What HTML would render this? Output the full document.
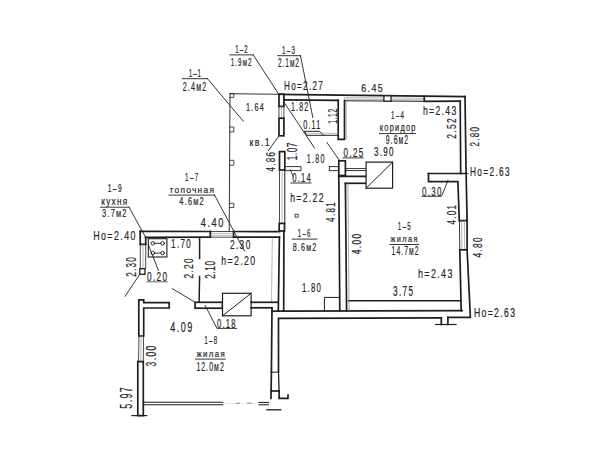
<!DOCTYPE html>
<html><head><meta charset="utf-8"><style>
html,body{margin:0;padding:0;background:#fff;}
svg{display:block;}
text{font-family:"Liberation Sans",sans-serif;stroke:#2a2a2a;stroke-width:0.2px;}
</style></head><body>
<svg width="613" height="460" viewBox="0 0 613 460" stroke-linecap="square">
<rect width="613" height="460" fill="#fff"/>
<text transform="translate(188.80 76.75) scale(0.550 1)" font-size="11.29" textLength="22.18" lengthAdjust="spacing" fill="#222">1–1</text>
<path d="M182.2 78.7 L207.5 78.7" stroke="#1e1e1e" stroke-width="0.9" fill="none" />
<text transform="translate(182.70 90.65) scale(0.569 1)" font-size="12.57" textLength="41.33" lengthAdjust="spacing" fill="#222">2.4м2</text>
<path d="M207.5 78.7 L243.2 121.1" stroke="#1e1e1e" stroke-width="0.9" fill="none" />
<text transform="translate(235.30 52.75) scale(0.550 1)" font-size="10.86" textLength="22.18" lengthAdjust="spacing" fill="#222">1–2</text>
<path d="M230 54.9 L253.2 54.9" stroke="#1e1e1e" stroke-width="0.9" fill="none" />
<text transform="translate(230.70 66.15) scale(0.563 1)" font-size="11.29" textLength="37.10" lengthAdjust="spacing" fill="#222">1.9м2</text>
<path d="M253.2 54.9 L278.8 94.3 L314.5 148" stroke="#1e1e1e" stroke-width="0.9" fill="none" />
<text transform="translate(282.00 53.95) scale(0.605 1)" font-size="10.29" textLength="21.47" lengthAdjust="spacing" fill="#222">1–3</text>
<path d="M277.6 55.7 L300.5 55.7" stroke="#1e1e1e" stroke-width="0.9" fill="none" />
<text transform="translate(278.00 67.45) scale(0.550 1)" font-size="12.00" textLength="38.18" lengthAdjust="spacing" fill="#222">2.1м2</text>
<path d="M300.5 55.7 L312.8 117.4" stroke="#1e1e1e" stroke-width="0.9" fill="none" />
<text transform="translate(284.00 90.25) scale(0.620 1)" font-size="13.14" textLength="62.59" lengthAdjust="spacing" fill="#222">Ho=2.27</text>
<path d="M279 94.3 L230 93.7 L229.2 231.3" stroke="#1e1e1e" stroke-width="0.9" fill="none" />
<path d="M229.8 93.7 L233.8 93.7 L233.8 97.4 L229.6 97.4" stroke="#1e1e1e" stroke-width="0.8" fill="none" />
<path d="M229.8 127 L233.8 127 L233.8 131.9 L229.6 131.9" stroke="#1e1e1e" stroke-width="0.8" fill="none" />
<path d="M229.8 160.3 L233.8 160.3 L233.8 165.2 L229.6 165.2" stroke="#1e1e1e" stroke-width="0.8" fill="none" />
<path d="M229.8 203.3 L233.8 203.3 L233.8 207.6 L229.6 207.6" stroke="#1e1e1e" stroke-width="0.8" fill="none" />
<text transform="translate(246.10 111.45) scale(0.683 1)" font-size="10.57" textLength="25.77" lengthAdjust="spacing" fill="#222">1.64</text>
<text transform="translate(249.60 145.75) scale(0.847 1)" font-size="10.50" textLength="23.62" lengthAdjust="spacing" fill="#222">кв.1</text>
<path d="M279 135.8 L268.5 150.5" stroke="#1e1e1e" stroke-width="0.9" fill="none" />
<text transform="translate(274.75 171.50) rotate(-90) scale(0.636 1)" font-size="12.57" textLength="30.64" lengthAdjust="spacing" fill="#222">4.86</text>
<path d="M279 94.3 L465 96.6" stroke="#1e1e1e" stroke-width="1.7" fill="none" />
<path d="M283.5 99.8 L338.2 100.3" stroke="#1e1e1e" stroke-width="1.7" fill="none" />
<path d="M344.5 97.6 L424.3 98.3" stroke="#8a8a8a" stroke-width="0.6" fill="none" />
<path d="M344.5 99.2 L424.3 99.9" stroke="#8a8a8a" stroke-width="0.6" fill="none" />
<path d="M344.5 100.8 L424.3 101.3" stroke="#1e1e1e" stroke-width="1.0" fill="none" />
<rect x="383.9" y="95.8" width="7.1" height="5.4" stroke="#1e1e1e" stroke-width="1.3" fill="#fff"/>
<path d="M424.3 96.3 L424.3 101.3 L460.2 101.1" stroke="#1e1e1e" stroke-width="1.7" fill="none" />
<text transform="translate(361.20 92.25) scale(0.795 1)" font-size="11.14" textLength="27.16" lengthAdjust="spacing" fill="#222">6.45</text>
<path d="M465 96.6 L466.1 173.5 L467.1 220.7 L467.1 249.8 L470.4 317.4 L447.9 317.4" stroke="#1e1e1e" stroke-width="1.7" fill="none" />
<path d="M460.2 101.1 L460.7 173.5" stroke="#1e1e1e" stroke-width="1.7" fill="none" />
<path d="M428.5 173.5 L466.1 173.5" stroke="#1e1e1e" stroke-width="1.7" fill="none" />
<path d="M428.5 173.5 L428.5 181.7 L457.9 181.7 L459.3 220.7 L467.1 220.7" stroke="#1e1e1e" stroke-width="1.7" fill="none" />
<path d="M461.7 220.7 L461.9 249.8" stroke="#8a8a8a" stroke-width="0.6" fill="none" />
<path d="M464.4 220.7 L464.6 249.8" stroke="#8a8a8a" stroke-width="0.6" fill="none" />
<path d="M459.4 220.7 L459.8 249.8" stroke="#1e1e1e" stroke-width="0.9" fill="none" />
<path d="M459.8 249.8 L467.1 249.8" stroke="#1e1e1e" stroke-width="1.7" fill="none" />
<path d="M459.8 249.8 L461.2 310.6" stroke="#1e1e1e" stroke-width="1.7" fill="none" />
<text transform="translate(422.90 114.95) scale(0.673 1)" font-size="12.86" textLength="49.66" lengthAdjust="spacing" fill="#222">h=2.43</text>
<text transform="translate(456.45 138.70) rotate(-90) scale(0.626 1)" font-size="13.43" textLength="32.73" lengthAdjust="spacing" fill="#222">2.52</text>
<text transform="translate(478.95 146.60) rotate(-90) scale(0.670 1)" font-size="12.00" textLength="29.25" lengthAdjust="spacing" fill="#222">2.80</text>
<text transform="translate(470.00 176.25) scale(0.685 1)" font-size="12.14" textLength="57.83" lengthAdjust="spacing" fill="#222">Ho=2.63</text>
<path d="M466.1 173.5 L468 173.5" stroke="#1e1e1e" stroke-width="0.9" fill="none" />
<text transform="translate(422.00 195.85) scale(0.615 1)" font-size="13.00" textLength="31.69" lengthAdjust="spacing" fill="#222">0.30</text>
<path d="M422 196.3 L441.5 196.3 L448 180.3" stroke="#1e1e1e" stroke-width="0.9" fill="none" />
<text transform="translate(456.05 224.60) rotate(-90) scale(0.625 1)" font-size="12.86" textLength="31.34" lengthAdjust="spacing" fill="#222">4.01</text>
<text transform="translate(481.95 257.60) rotate(-90) scale(0.662 1)" font-size="12.57" textLength="30.64" lengthAdjust="spacing" fill="#222">4.80</text>
<text transform="translate(473.90 317.45) scale(0.719 1)" font-size="12.00" textLength="57.15" lengthAdjust="spacing" fill="#222">Ho=2.63</text>
<path d="M462.1 310.6 L283.1 311.1" stroke="#1e1e1e" stroke-width="1.7" fill="none" />
<path d="M441.3 317.9 L278.5 318.3 L278.5 372" stroke="#1e1e1e" stroke-width="1.7" fill="none" />
<path d="M441.3 317.9 L441.3 324.5" stroke="#1e1e1e" stroke-width="1.7" fill="none" />
<path d="M447.9 317.4 L447.9 324.5" stroke="#1e1e1e" stroke-width="1.7" fill="none" />
<path d="M435.7 324.5 L456 324.5" stroke="#1e1e1e" stroke-width="1.2" fill="none" />
<path d="M348.4 300.8 L460.9 300.8" stroke="#1e1e1e" stroke-width="1.4" fill="none" />
<text transform="translate(393.10 296.15) scale(0.574 1)" font-size="14.29" textLength="34.82" lengthAdjust="spacing" fill="#222">3.75</text>
<text transform="translate(418.00 278.45) scale(0.700 1)" font-size="12.71" textLength="49.11" lengthAdjust="spacing" fill="#222">h=2.43</text>
<path d="M338.2 100.3 L338.2 139.3 L344.5 139.3 L344.5 100.6" stroke="#1e1e1e" stroke-width="1.7" fill="none" />
<path d="M346.3 101 L346.3 139" stroke="#8a8a8a" stroke-width="0.6" fill="none" />
<text transform="translate(336.55 123.80) rotate(-90) scale(0.550 1)" font-size="12.29" textLength="27.27" lengthAdjust="spacing" fill="#222">1.12</text>
<text transform="translate(291.00 111.15) scale(0.581 1)" font-size="12.14" textLength="29.60" lengthAdjust="spacing" fill="#222">1.82</text>
<text transform="translate(303.30 129.15) scale(0.613 1)" font-size="11.86" textLength="27.72" lengthAdjust="spacing" fill="#222">0.11</text>
<path d="M304.8 131.3 L319.7 131.3 L323.7 135.3 L338.2 135.3" stroke="#1e1e1e" stroke-width="1.0" fill="none" />
<path d="M304.8 131.3 L306.5 135.3 L323.7 135.3" stroke="#1e1e1e" stroke-width="1.0" fill="none" />
<path d="M307 133.3 L338.2 133.3" stroke="#8a8a8a" stroke-width="0.6" fill="none" />
<text transform="translate(391.00 118.85) scale(0.613 1)" font-size="10.00" textLength="20.88" lengthAdjust="spacing" fill="#222">1–4</text>
<text transform="translate(379.80 131.05) scale(0.748 1)" font-size="10.00" textLength="47.75" lengthAdjust="spacing" fill="#222">коридор</text>
<path d="M379.5 133.6 L415.5 133.6" stroke="#1e1e1e" stroke-width="0.9" fill="none" />
<text transform="translate(385.70 143.75) scale(0.570 1)" font-size="12.00" textLength="39.45" lengthAdjust="spacing" fill="#222">9.6м2</text>
<rect x="279" y="94.3" width="4.9" height="12.1" stroke="#1e1e1e" stroke-width="1.7" fill="#fff"/>
<path d="M279 106.4 L279 118.2" stroke="#1e1e1e" stroke-width="0.8" fill="none" />
<path d="M281.5 106.4 L281.5 118.2" stroke="#8a8a8a" stroke-width="0.6" fill="none" />
<path d="M283.9 106.4 L283.9 118.2" stroke="#1e1e1e" stroke-width="0.8" fill="none" />
<rect x="279" y="118.2" width="4.9" height="17.6" stroke="#1e1e1e" stroke-width="1.7" fill="#fff"/>
<rect x="279.5" y="151.6" width="5.3" height="18.4" stroke="#1e1e1e" stroke-width="1.7" fill="#fff"/>
<text transform="translate(297.15 160.30) rotate(-90) scale(0.550 1)" font-size="14.86" textLength="32.18" lengthAdjust="spacing" fill="#222">1.07</text>
<text transform="translate(306.80 163.35) scale(0.602 1)" font-size="12.00" textLength="29.25" lengthAdjust="spacing" fill="#222">1.80</text>
<path d="M284.8 166.6 L301 166.6 L301 170.6 L284.8 170.6" stroke="#1e1e1e" stroke-width="0.9" fill="none" />
<path d="M279.5 170 L279.5 223.4" stroke="#1e1e1e" stroke-width="0.8" fill="none" />
<path d="M282.1 170 L282.1 223.4" stroke="#8a8a8a" stroke-width="0.6" fill="none" />
<path d="M284.8 170 L284.8 223.4" stroke="#1e1e1e" stroke-width="1.0" fill="none" />
<rect x="279.2" y="223.4" width="5.3" height="7.6" stroke="#1e1e1e" stroke-width="1.7" fill="#fff"/>
<path d="M283.9 231 L283.7 311.1" stroke="#1e1e1e" stroke-width="1.7" fill="none" />
<path d="M279.4 237.2 L278.3 311.1" stroke="#1e1e1e" stroke-width="1.7" fill="none" />
<path d="M272.3 238 L271.5 302" stroke="#8a8a8a" stroke-width="0.6" fill="none" />
<text transform="translate(292.20 182.45) scale(0.568 1)" font-size="13.43" textLength="32.73" lengthAdjust="spacing" fill="#222">0.14</text>
<path d="M291 183 L311 183" stroke="#1e1e1e" stroke-width="0.9" fill="none" />
<path d="M290.2 169.6 L293.5 177" stroke="#1e1e1e" stroke-width="0.8" fill="none" />
<text transform="translate(290.20 202.05) scale(0.642 1)" font-size="13.43" textLength="51.87" lengthAdjust="spacing" fill="#222">h=2.22</text>
<rect x="295.1" y="214.2" width="3.0" height="2.9" stroke="#1e1e1e" stroke-width="0.8" fill="#fff"/>
<text transform="translate(297.70 236.95) scale(0.550 1)" font-size="11.14" textLength="23.26" lengthAdjust="spacing" fill="#222">1–6</text>
<path d="M292.1 239.1 L317 239.1" stroke="#1e1e1e" stroke-width="0.9" fill="none" />
<text transform="translate(292.70 250.95) scale(0.642 1)" font-size="11.14" textLength="36.63" lengthAdjust="spacing" fill="#222">8.6м2</text>
<text transform="translate(301.90 292.15) scale(0.613 1)" font-size="12.71" textLength="30.99" lengthAdjust="spacing" fill="#222">1.80</text>
<path d="M324.4 310.8 L324.4 297.4 L339.1 297.4" stroke="#1e1e1e" stroke-width="1.0" fill="none" />
<rect x="338.8" y="160.8" width="6.6" height="14.7" stroke="#1e1e1e" stroke-width="1.7" fill="#fff"/>
<path d="M329.4 166.6 L338.8 166.6" stroke="#1e1e1e" stroke-width="0.9" fill="none" />
<path d="M329.4 170.6 L338.8 170.6" stroke="#1e1e1e" stroke-width="0.9" fill="none" />
<path d="M329.4 166.6 L329.4 170.6" stroke="#1e1e1e" stroke-width="0.9" fill="none" />
<path d="M345.4 168.6 L366.1 168.6" stroke="#1e1e1e" stroke-width="0.9" fill="none" />
<path d="M345.4 170.6 L366.1 170.6" stroke="#1e1e1e" stroke-width="0.9" fill="none" />
<path d="M338.8 175.5 L338.8 176.4 L366.1 176.4" stroke="#1e1e1e" stroke-width="1.7" fill="none" />
<path d="M345.4 183.3 L366.1 183.3" stroke="#1e1e1e" stroke-width="1.7" fill="none" />
<path d="M338.8 176.4 L339.8 310.8" stroke="#1e1e1e" stroke-width="1.7" fill="none" />
<path d="M345.4 183.3 L346.6 310.6" stroke="#1e1e1e" stroke-width="1.7" fill="none" />
<path d="M347.9 184 L349.1 310.6" stroke="#8a8a8a" stroke-width="0.7" fill="none" />
<rect x="366.1" y="162.1" width="26.5" height="26.1" stroke="#1e1e1e" stroke-width="1.2" fill="#fff"/>
<path d="M366.1 188.2 L392.6 162.1" stroke="#1e1e1e" stroke-width="1.0" fill="none" />
<text transform="translate(343.60 156.55) scale(0.662 1)" font-size="12.14" textLength="29.60" lengthAdjust="spacing" fill="#222">0.25</text>
<path d="M343 157.9 L363.2 157.9" stroke="#1e1e1e" stroke-width="0.9" fill="none" />
<path d="M327 142.6 L339.7 160.8" stroke="#1e1e1e" stroke-width="0.9" fill="none" />
<text transform="translate(373.90 155.55) scale(0.662 1)" font-size="12.14" textLength="29.60" lengthAdjust="spacing" fill="#222">3.90</text>
<text transform="translate(334.85 221.90) rotate(-90) scale(0.612 1)" font-size="13.14" textLength="32.04" lengthAdjust="spacing" fill="#222">4.81</text>
<text transform="translate(361.35 254.30) rotate(-90) scale(0.704 1)" font-size="12.00" textLength="29.25" lengthAdjust="spacing" fill="#222">4.00</text>
<text transform="translate(397.70 230.35) scale(0.553 1)" font-size="11.43" textLength="23.86" lengthAdjust="spacing" fill="#222">1–5</text>
<text transform="translate(390.60 242.05) scale(0.776 1)" font-size="9.50" textLength="34.56" lengthAdjust="spacing" fill="#222">жилая</text>
<path d="M390 244.5 L418.6 244.5" stroke="#1e1e1e" stroke-width="0.9" fill="none" />
<text transform="translate(391.60 255.35) scale(0.564 1)" font-size="12.00" textLength="47.85" lengthAdjust="spacing" fill="#222">14.7м2</text>
<text transform="translate(185.10 180.95) scale(0.556 1)" font-size="11.29" textLength="23.56" lengthAdjust="spacing" fill="#222">1–7</text>
<text transform="translate(169.50 192.65) scale(0.880 1)" font-size="9.50" textLength="50.47" lengthAdjust="spacing" fill="#222">топочная</text>
<path d="M168.9 195.1 L214.5 195.1" stroke="#1e1e1e" stroke-width="0.9" fill="none" />
<text transform="translate(179.30 205.35) scale(0.702 1)" font-size="10.57" textLength="34.75" lengthAdjust="spacing" fill="#222">4.6м2</text>
<path d="M214.5 195.1 L244.5 251.1" stroke="#1e1e1e" stroke-width="0.9" fill="none" />
<text transform="translate(200.80 226.95) scale(0.687 1)" font-size="13.43" textLength="32.73" lengthAdjust="spacing" fill="#222">4.40</text>
<path d="M140.2 231.3 L210.3 231.5" stroke="#1e1e1e" stroke-width="1.7" fill="none" />
<path d="M233.6 231.5 L279.6 231.6" stroke="#1e1e1e" stroke-width="1.7" fill="none" />
<path d="M210.3 231.5 L233.6 231.5" stroke="#1e1e1e" stroke-width="0.8" fill="none" />
<path d="M210.3 233.4 L233.6 233.4" stroke="#8a8a8a" stroke-width="0.6" fill="none" />
<path d="M210.3 235.3 L233.6 235.3" stroke="#8a8a8a" stroke-width="0.6" fill="none" />
<path d="M210.3 237.2 L233.6 237.2" stroke="#1e1e1e" stroke-width="0.8" fill="none" />
<path d="M210.3 231.5 L210.3 237.2" stroke="#1e1e1e" stroke-width="1.7" fill="none" />
<path d="M233.6 231.5 L233.6 237.2" stroke="#1e1e1e" stroke-width="1.7" fill="none" />
<path d="M145.7 237.4 L210.3 237.2" stroke="#1e1e1e" stroke-width="1.7" fill="none" />
<path d="M233.6 237.2 L279.4 237.2" stroke="#1e1e1e" stroke-width="1.7" fill="none" />
<text transform="translate(229.90 248.85) scale(0.666 1)" font-size="12.57" textLength="30.64" lengthAdjust="spacing" fill="#222">2.30</text>
<text transform="translate(221.20 265.15) scale(0.640 1)" font-size="13.71" textLength="52.97" lengthAdjust="spacing" fill="#222">h=2.20</text>
<text transform="translate(107.70 192.15) scale(0.590 1)" font-size="11.29" textLength="23.56" lengthAdjust="spacing" fill="#222">1–9</text>
<text transform="translate(101.20 205.25) scale(0.822 1)" font-size="10.00" textLength="31.75" lengthAdjust="spacing" fill="#222">кухня</text>
<path d="M100.4 207.2 L129 207.2" stroke="#1e1e1e" stroke-width="0.9" fill="none" />
<text transform="translate(102.00 217.45) scale(0.660 1)" font-size="11.29" textLength="37.10" lengthAdjust="spacing" fill="#222">3.7м2</text>
<path d="M129 207.2 L145.7 237.4" stroke="#1e1e1e" stroke-width="0.9" fill="none" />
<text transform="translate(93.20 239.75) scale(0.661 1)" font-size="13.43" textLength="63.95" lengthAdjust="spacing" fill="#222">Ho=2.40</text>
<path d="M140.2 231.3 L140.2 244.3 L145.7 244.3 L145.7 237.4" stroke="#1e1e1e" stroke-width="1.7" fill="none" />
<path d="M140.3 244.3 L140.3 268.7" stroke="#1e1e1e" stroke-width="0.8" fill="none" />
<path d="M143 244.3 L143 268.7" stroke="#8a8a8a" stroke-width="0.6" fill="none" />
<path d="M145.7 244.3 L145.7 268.7" stroke="#1e1e1e" stroke-width="0.8" fill="none" />
<rect x="139.8" y="268.7" width="5.2" height="5.6" stroke="#1e1e1e" stroke-width="1.3" fill="#fff"/>
<path d="M139.8 274.3 L125.1 296.3" stroke="#1e1e1e" stroke-width="0.9" fill="none" />
<text transform="translate(136.45 276.80) rotate(-90) scale(0.550 1)" font-size="14.86" textLength="35.64" lengthAdjust="spacing" fill="#222">2.30</text>
<rect x="148.3" y="238.7" width="18.6" height="18.3" stroke="#1e1e1e" stroke-width="1.1" fill="#fff"/>
<circle cx="152.8" cy="243.3" r="1.8" stroke="#1e1e1e" stroke-width="0.9" fill="#fff"/>
<circle cx="162.6" cy="243.3" r="1.8" stroke="#1e1e1e" stroke-width="0.9" fill="#fff"/>
<circle cx="152.8" cy="253.1" r="1.8" stroke="#1e1e1e" stroke-width="0.9" fill="#fff"/>
<circle cx="162.6" cy="253.1" r="1.8" stroke="#1e1e1e" stroke-width="0.9" fill="#fff"/>
<path d="M154.6 243.3 L160.8 243.3" stroke="#1e1e1e" stroke-width="0.9" fill="none" />
<path d="M154.6 253.1 L160.8 253.1" stroke="#1e1e1e" stroke-width="0.9" fill="none" />
<path d="M148.3 244.6 L158.5 270.5" stroke="#1e1e1e" stroke-width="0.9" fill="none" />
<text transform="translate(147.00 280.65) scale(0.637 1)" font-size="13.00" textLength="31.69" lengthAdjust="spacing" fill="#222">0.20</text>
<path d="M147 281.8 L167.2 281.8" stroke="#1e1e1e" stroke-width="0.7" fill="none" />
<text transform="translate(171.10 247.55) scale(0.670 1)" font-size="12.00" textLength="29.25" lengthAdjust="spacing" fill="#222">1.70</text>
<path d="M199.6 237.4 L199.6 258.4" stroke="#1e1e1e" stroke-width="1.5" fill="none" />
<path d="M199.6 276.4 L199.1 302.3" stroke="#1e1e1e" stroke-width="1.5" fill="none" />
<text transform="translate(192.65 278.50) rotate(-90) scale(0.634 1)" font-size="13.00" textLength="31.69" lengthAdjust="spacing" fill="#222">2.20</text>
<text transform="translate(214.55 278.80) rotate(-90) scale(0.550 1)" font-size="14.86" textLength="32.55" lengthAdjust="spacing" fill="#222">2.10</text>
<path d="M172.1 288.5 L195.1 302.3" stroke="#1e1e1e" stroke-width="0.9" fill="none" />
<rect x="195.1" y="302.3" width="27.4" height="5.9" stroke="#1e1e1e" stroke-width="1.7" fill="#fff"/>
<rect x="222.5" y="293.3" width="28.6" height="22.5" stroke="#1e1e1e" stroke-width="1.2" fill="#fff"/>
<path d="M222.5 315.8 L251.1 293.3" stroke="#1e1e1e" stroke-width="1.0" fill="none" />
<path d="M251.1 302.3 L277.9 302.3" stroke="#1e1e1e" stroke-width="1.7" fill="none" />
<path d="M251.1 307.8 L272 307.8" stroke="#1e1e1e" stroke-width="1.7" fill="none" />
<path d="M272 307.8 L271.4 372" stroke="#1e1e1e" stroke-width="1.7" fill="none" />
<path d="M272 311.1 L283.1 311.1" stroke="#1e1e1e" stroke-width="1.7" fill="none" />
<text transform="translate(170.20 331.65) scale(0.648 1)" font-size="14.00" textLength="34.12" lengthAdjust="spacing" fill="#222">4.09</text>
<path d="M205.2 305.5 L217 328.4 L236.6 328.4" stroke="#1e1e1e" stroke-width="0.9" fill="none" />
<text transform="translate(217.00 327.55) scale(0.636 1)" font-size="12.00" textLength="29.25" lengthAdjust="spacing" fill="#222">0.18</text>
<text transform="translate(204.20 343.85) scale(0.560 1)" font-size="11.29" textLength="23.56" lengthAdjust="spacing" fill="#222">1–8</text>
<text transform="translate(196.40 356.95) scale(0.822 1)" font-size="9.50" textLength="34.56" lengthAdjust="spacing" fill="#222">жилая</text>
<path d="M195.5 359.1 L225.4 359.1" stroke="#1e1e1e" stroke-width="0.9" fill="none" />
<text transform="translate(196.40 371.05) scale(0.550 1)" font-size="12.71" textLength="49.82" lengthAdjust="spacing" fill="#222">12.0м2</text>
<path d="M138.8 336 L138.8 299.8 L143.7 299.8 L143.7 302.7 L169.2 302.7 L169.2 308 L143.7 308 L143.7 336 L138.8 336" stroke="#1e1e1e" stroke-width="1.7" fill="none" />
<path d="M139 336 L138.5 361.5" stroke="#1e1e1e" stroke-width="0.8" fill="none" />
<path d="M141.2 336 L140.8 361.5" stroke="#8a8a8a" stroke-width="0.6" fill="none" />
<path d="M143.6 336 L143.3 361.5" stroke="#1e1e1e" stroke-width="0.8" fill="none" />
<rect x="137.8" y="361.6" width="5.5" height="54.0" stroke="#1e1e1e" stroke-width="1.7" fill="none"/>
<path d="M132 415.6 L146.7 415.6" stroke="#1e1e1e" stroke-width="1.2" fill="none" />
<text transform="translate(156.05 366.40) rotate(-90) scale(0.550 1)" font-size="15.43" textLength="37.45" lengthAdjust="spacing" fill="#222">3.00</text>
<text transform="translate(132.15 408.70) rotate(-90) scale(0.550 1)" font-size="16.29" textLength="39.09" lengthAdjust="spacing" fill="#222">5.97</text>
<path d="M143.3 402.2 L222.8 402.2" stroke="#1e1e1e" stroke-width="1.1" fill="none" />
<path d="M143.3 404.8 L222.8 404.8" stroke="#1e1e1e" stroke-width="1.1" fill="none" />
<path d="M222.8 403.5 L268.5 403.5" stroke="#e2e2e2" stroke-width="0.7" fill="none" />
<path d="M236.5 403.2 L239.5 403.2" stroke="#999" stroke-width="1.2" fill="none" />
<path d="M247.5 403.2 L251 403.2" stroke="#999" stroke-width="1.2" fill="none" />
<path d="M259 402.4 L268.5 402.4" stroke="#1e1e1e" stroke-width="1.0" fill="none" />
<path d="M259 404.8 L268.5 404.8" stroke="#1e1e1e" stroke-width="1.0" fill="none" />
<path d="M271.4 372 L271 398.3" stroke="#1e1e1e" stroke-width="1.7" fill="none" />
<path d="M278.5 372 L279.1 391" stroke="#1e1e1e" stroke-width="1.3" fill="none" />
<path d="M271.4 372.2 L278.5 372.2" stroke="#1e1e1e" stroke-width="1.0" fill="none" />
<path d="M271.1 391 L279.1 391" stroke="#1e1e1e" stroke-width="1.7" fill="none" />
<path d="M279.1 391 L279.1 398.3 L288 398.3 L288 395" stroke="#1e1e1e" stroke-width="1.7" fill="none" />
<path d="M266.9 409.8 L280.8 409.8" stroke="#1e1e1e" stroke-width="1.3" fill="none" />
</svg>
</body></html>
